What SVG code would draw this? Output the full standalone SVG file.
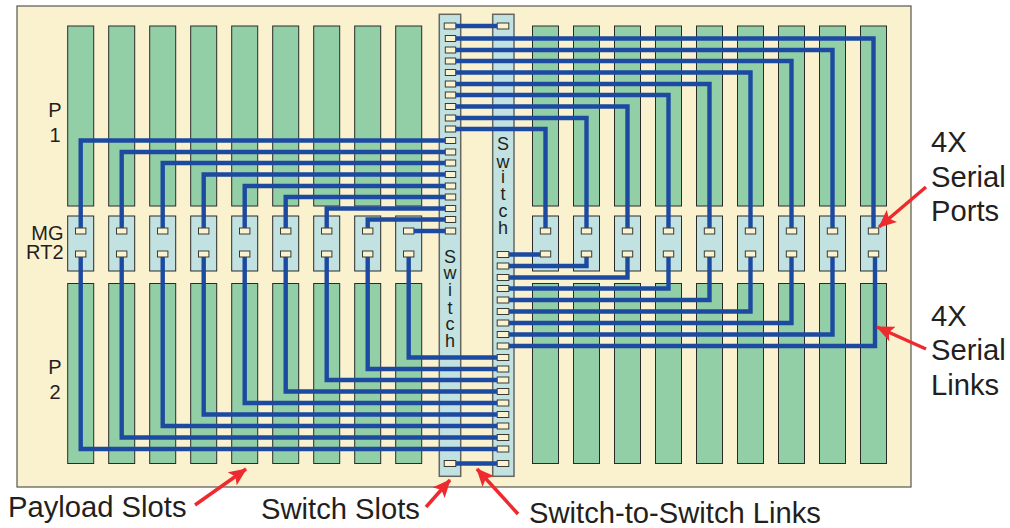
<svg xmlns="http://www.w3.org/2000/svg" width="1010" height="528" viewBox="0 0 1010 528">
<defs>
<marker id="ah" markerUnits="userSpaceOnUse" markerWidth="18" markerHeight="16" refX="17" refY="8" orient="auto"><path d="M0 0L18 8L0 16L4 8Z" fill="#ee2a2e"/></marker>
<rect id="pad" x="-5.2" y="-3" width="10.4" height="6" fill="#fbf2d0" stroke="#3a3a32" stroke-width="1"/>
<rect id="padw" x="-5.8" y="-3" width="11.6" height="6" fill="#fbf2d0" stroke="#3a3a32" stroke-width="1"/>
<rect id="slot" width="26" height="180" fill="#93cfa6" stroke="#2a2a28" stroke-width="1"/>
<g id="mg"><rect width="26" height="55" fill="#c2e2e2" stroke="#2a2a28" stroke-width="1"/><use href="#pad" x="13" y="15"/><use href="#pad" x="13" y="38"/></g>
</defs>
<style>
text{font-family:"Liberation Sans",Arial,sans-serif;fill:#231f20}
.big{font-size:29.2px}
.mid{font-size:20px}
.sl{font-size:18px}
.c{text-anchor:middle}
.sw{fill:#c2e2e2;stroke:#666660;stroke-width:1.5}
.w{fill:none;stroke:#1c4aa0;stroke-width:4.4;stroke-linejoin:miter}
.a{fill:none;stroke:#ee2a2e;stroke-width:3.5;marker-end:url(#ah)}
</style>
<rect x="17" y="6" width="894" height="481" fill="#faf1cf" stroke="#55554f" stroke-width="1.2"/>
<g id="payload-slots">
<use href="#slot" x="67.7" y="26"/><use href="#slot" x="108.7" y="26"/><use href="#slot" x="149.7" y="26"/><use href="#slot" x="190.7" y="26"/><use href="#slot" x="231.7" y="26"/><use href="#slot" x="272.7" y="26"/><use href="#slot" x="313.7" y="26"/><use href="#slot" x="354.7" y="26"/><use href="#slot" x="395.7" y="26"/>
<use href="#slot" x="67.7" y="283.5"/><use href="#slot" x="108.7" y="283.5"/><use href="#slot" x="149.7" y="283.5"/><use href="#slot" x="190.7" y="283.5"/><use href="#slot" x="231.7" y="283.5"/><use href="#slot" x="272.7" y="283.5"/><use href="#slot" x="313.7" y="283.5"/><use href="#slot" x="354.7" y="283.5"/><use href="#slot" x="395.7" y="283.5"/>
<use href="#slot" x="532.5" y="26"/><use href="#slot" x="573.5" y="26"/><use href="#slot" x="614.5" y="26"/><use href="#slot" x="655.5" y="26"/><use href="#slot" x="696.5" y="26"/><use href="#slot" x="737.5" y="26"/><use href="#slot" x="778.5" y="26"/><use href="#slot" x="819.5" y="26"/><use href="#slot" x="860.5" y="26"/>
<use href="#slot" x="532.5" y="283.5"/><use href="#slot" x="573.5" y="283.5"/><use href="#slot" x="614.5" y="283.5"/><use href="#slot" x="655.5" y="283.5"/><use href="#slot" x="696.5" y="283.5"/><use href="#slot" x="737.5" y="283.5"/><use href="#slot" x="778.5" y="283.5"/><use href="#slot" x="819.5" y="283.5"/><use href="#slot" x="860.5" y="283.5"/>
</g>
<g id="mgrt2-left">
<use href="#mg" x="67.7" y="216"/><use href="#mg" x="108.7" y="216"/><use href="#mg" x="149.7" y="216"/><use href="#mg" x="190.7" y="216"/><use href="#mg" x="231.7" y="216"/><use href="#mg" x="272.7" y="216"/><use href="#mg" x="313.7" y="216"/><use href="#mg" x="354.7" y="216"/><use href="#mg" x="395.7" y="216"/>
</g>
<g id="mgrt2-right">
<use href="#mg" x="532.5" y="216"/><use href="#mg" x="573.5" y="216"/><use href="#mg" x="614.5" y="216"/><use href="#mg" x="655.5" y="216"/><use href="#mg" x="696.5" y="216"/><use href="#mg" x="737.5" y="216"/><use href="#mg" x="778.5" y="216"/><use href="#mg" x="819.5" y="216"/><use href="#mg" x="860.5" y="216"/>
</g>
<g id="switch-1">
<rect class="sw" x="439.3" y="14.3" width="21.4" height="462"/>
<use href="#padw" x="450" y="26"/>
<use href="#pad" x="450.5" y="38.5"/><use href="#pad" x="450.5" y="50"/><use href="#pad" x="450.5" y="61"/><use href="#pad" x="450.5" y="72.5"/><use href="#pad" x="450.5" y="84"/><use href="#pad" x="450.5" y="95"/><use href="#pad" x="450.5" y="106.5"/><use href="#pad" x="450.5" y="118"/><use href="#pad" x="450.5" y="129"/>
<use href="#pad" x="450.5" y="140.5"/><use href="#pad" x="450.5" y="152"/><use href="#pad" x="450.5" y="163"/><use href="#pad" x="450.5" y="174.5"/><use href="#pad" x="450.5" y="186"/><use href="#pad" x="450.5" y="197"/><use href="#pad" x="450.5" y="208.5"/><use href="#pad" x="450.5" y="219.5"/><use href="#pad" x="450.5" y="231"/>
<use href="#padw" x="450" y="463.5"/>
<text class="sl c"><tspan x="450" y="263">S</tspan><tspan x="450" y="279">w</tspan><tspan x="450" y="296">i</tspan><tspan x="450" y="314">t</tspan><tspan x="450" y="330">c</tspan><tspan x="450" y="347">h</tspan></text>
</g>
<g id="switch-2">
<rect class="sw" x="492.7" y="14.3" width="21.3" height="462"/>
<use href="#padw" x="503" y="26"/>
<use href="#padw" x="503" y="254.5"/><use href="#padw" x="503" y="266"/><use href="#padw" x="503" y="277.5"/><use href="#padw" x="503" y="288.5"/><use href="#padw" x="503" y="300"/><use href="#padw" x="503" y="311.5"/><use href="#padw" x="503" y="323"/><use href="#padw" x="503" y="334.5"/><use href="#padw" x="503" y="346"/>
<use href="#padw" x="503" y="357.5"/><use href="#padw" x="503" y="369"/><use href="#padw" x="503" y="380"/><use href="#padw" x="503" y="391.5"/><use href="#padw" x="503" y="403"/><use href="#padw" x="503" y="414.5"/><use href="#padw" x="503" y="426"/><use href="#padw" x="503" y="437.5"/><use href="#padw" x="503" y="449"/>
<use href="#padw" x="503" y="463.5"/>
<text class="sl c"><tspan x="503" y="150">S</tspan><tspan x="503" y="168">w</tspan><tspan x="503" y="183">i</tspan><tspan x="503" y="200">t</tspan><tspan x="503" y="217">c</tspan><tspan x="503" y="234">h</tspan></text>
</g>
<g id="connectors">
<path class="w" d="M456 26H497M456 463.5H497"/>
<path class="w" d="M445 140.5H80.7V228M445 152H121.7V228M445 163H162.7V228M445 174.5H203.7V228M445 186H244.7V228M445 197H285.7V228M445 208.5H326.7V228M445 219.5H367.7V228M445 231H414"/>
<path class="w" d="M80.7 257V449H497M121.7 257V437.5H497M162.7 257V426H497M203.7 257V414.5H497M244.7 257V403H497M285.7 257V391.5H497M326.7 257V380H497M367.7 257V369H497M408.7 257V357.5H497"/>
<path class="w" d="M456 129H545.5V228M456 118H586.5V228M456 106.5H627.5V228M456 95H668.5V228M456 84H709.5V228M456 72.5H750.5V228M456 61H791.5V228M456 50H832.5V228M456 38.5H873.5V228"/>
<path class="w" d="M509 254.5H540M509 266H586.5V257M509 277.5H627.5V257M509 288.5H668.5V257M509 300H709.5V257M509 311.5H750.5V257M509 323H791.5V257M509 334.5H832.5V257M509 346H875V257"/>
</g>
<g id="labels">
<text class="mid c"><tspan x="55" y="116.5">P</tspan><tspan x="55" y="141.5">1</tspan></text>
<text class="mid c"><tspan x="55" y="374">P</tspan><tspan x="55" y="399">2</tspan></text>
<text class="mid" text-anchor="end"><tspan x="63.5" y="240">MG</tspan><tspan x="63.5" y="259">RT2</tspan></text>
<text class="big"><tspan x="931" y="152">4X</tspan><tspan x="931" y="187">Serial</tspan><tspan x="931" y="221">Ports</tspan></text>
<text class="big"><tspan x="931" y="326">4X</tspan><tspan x="931" y="360">Serial</tspan><tspan x="931" y="395">Links</tspan></text>
<text class="big" x="8" y="517">Payload Slots</text>
<text class="big" x="261" y="519">Switch Slots</text>
<text class="big" x="529" y="523">Switch-to-Switch Links</text>
</g>
<g id="callouts">
<path class="a" d="M195 505L246 469"/>
<path class="a" d="M426 507L450 480"/>
<path class="a" d="M518 514L477 469"/>
<path class="a" d="M926 187L879 227"/>
<path class="a" d="M926 349L877 327"/>
</g>
</svg>
